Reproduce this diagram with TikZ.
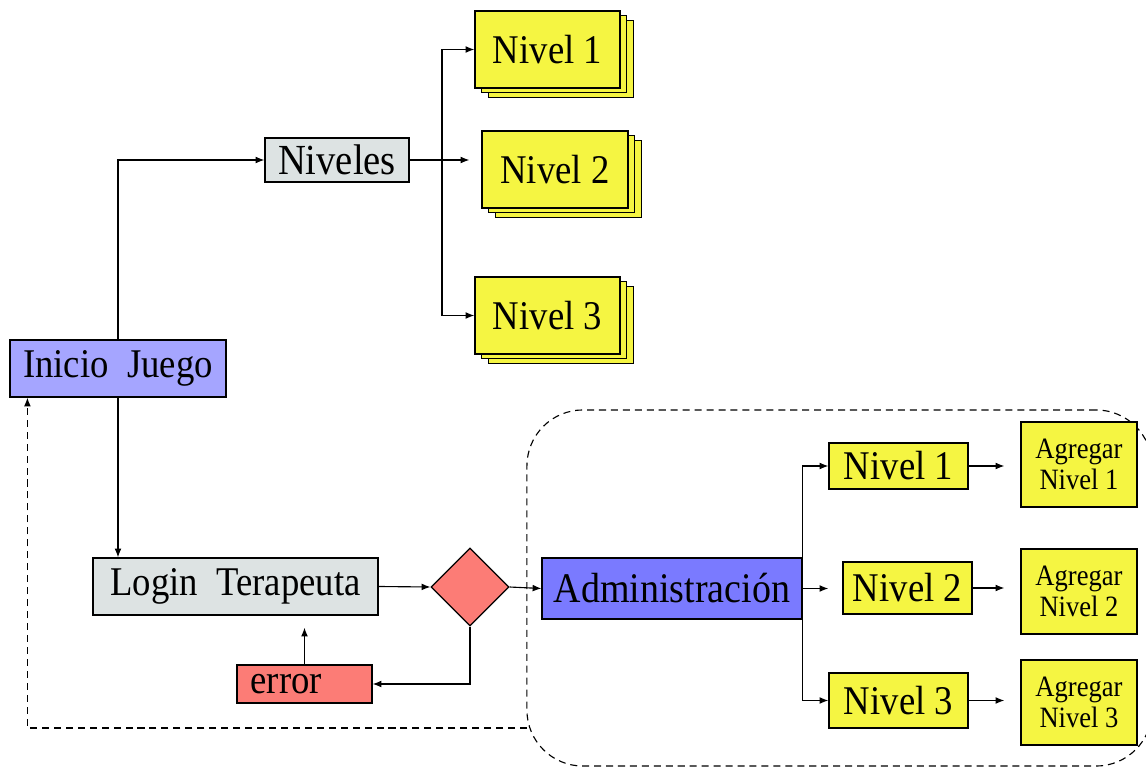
\documentclass[tikz,border=0pt]{standalone}
\usepackage{fontspec}
\setmainfont{Liberation Serif}[FakeStretch=0.9]
\usetikzlibrary{arrows.meta,positioning,calc,shapes.geometric,shadows}

\definecolor{boxgray}{RGB}{221,227,227}
\definecolor{startblue}{RGB}{165,165,255}
\definecolor{admblue}{RGB}{122,122,255}
\definecolor{lvlyellow}{RGB}{245,245,66}
\definecolor{errred}{RGB}{252,124,118}

\begin{document}
\begin{tikzpicture}[x=0.025cm,y=-0.025cm,>={Latex[length=2.2mm,width=1.7mm]},line width=0.8pt,
    every node/.style={font=\fontsize{29}{32}\selectfont,inner sep=0pt},
    gray-box/.style={draw,fill=boxgray},
    lvl-box/.style={draw,fill=lvlyellow},
    stack-box/.style={draw,fill=lvlyellow,minimum width=3.625cm,minimum height=1.925cm,double copy shadow={shadow xshift=0.17cm,shadow yshift=-0.12cm}},
    add-box/.style={draw,fill=lvlyellow,minimum width=2.9cm,minimum height=2.125cm,align=center,font=\fontsize{21}{22}\selectfont},
    back-line/.style={dash pattern=on 5pt off 3.5pt}]
      \useasboundingbox (0,0) rectangle (1146,768);

      \node [draw,back-line,rounded corners=1.4cm,minimum width=15.625cm,minimum height=8.9cm] (admin-area) at (839.5,588) {};

      \node [gray-box,minimum width=3.6cm,minimum height=1.1cm,font=\fontsize{30.5}{32}\selectfont] (niveles) at (337,160) {Niveles};
      \node [stack-box] (lvl-1) at (547.5,49.5) {Nivel 1};
      \node [stack-box,minimum width=3.65cm] (lvl-2) at (555,169.5) {Nivel 2};
      \node [stack-box] (lvl-3) at (547.5,315.5) {Nivel 3};

      \node [draw,fill=startblue,minimum width=5.4cm,minimum height=1.425cm] (inicio) at (118,368.5) {Inicio\ \ Juego};
      \node [gray-box,minimum width=7.125cm,minimum height=1.425cm] (login) at (235.5,586.5) {Login\ \ Terapeuta};
      \node [draw,diamond,fill=errred,minimum size=1.95cm] (check) at (470,587) {};
      \node [draw,fill=errred,minimum width=3.375cm,minimum height=0.95cm,text width=2.7cm,align=left] (error) at (304.5,684) {error};

      \node [draw,fill=admblue,minimum width=6.5cm,minimum height=1.525cm,font=\fontsize{30}{32}\selectfont] (adm) at (672,588.5) {Administración};
      \node [lvl-box,minimum width=3.475cm,minimum height=1.15cm] (adm-lvl-1) at (898.5,466) {Nivel 1};
      \node [lvl-box,minimum width=3.225cm,minimum height=1.3cm] (adm-lvl-2) at (907.5,588) {Nivel 2};
      \node [lvl-box,minimum width=3.475cm,minimum height=1.375cm] (adm-lvl-3) at (898.5,700.5) {Nivel 3};
      \node [add-box] (add-1) at (1079,464.5) {Agregar\\Nivel 1};
      \node [add-box] (add-2) at (1079,591.5) {Agregar\\Nivel 2};
      \node [add-box] (add-3) at (1079,702.5) {Agregar\\Nivel 3};

      \coordinate (split) at (442,160);
      \coordinate (back) at (527,728);

      \draw[->] (inicio.north) |- (niveles.west);
      \draw[->,shorten >=0.3cm] (niveles.east) -- (niveles.east -| lvl-2.west);
      \draw[->] (split) |- (lvl-1.west);
      \draw[->] (split) |- (lvl-3.west);

      \draw[->] (inicio.south) -- (inicio.south |- login.north);
      \draw[->] (login.east) -- (check.west);
      \draw[->] (check.east) -- (adm.west);
      \draw[->] (check.south) |- (error.east);
      \draw[->,shorten >=0.3cm] (error.north) -- (error.north |- login.south);
      \draw[back-line,->] (back) -| ([xshift=0.45cm]inicio.south west);

      \draw[->] (adm.north east) |- (adm-lvl-1.west);
      \draw[->,shorten >=0.35cm] (adm.east) -- (adm.east -| adm-lvl-2.west);
      \draw[->] (adm.south east) |- (adm-lvl-3.west);
      \foreach \t in {1,2,3} {
        \draw[->,shorten >=0.4cm] (adm-lvl-\t.east) -- (adm-lvl-\t.east -| add-\t.west);
      }
\end{tikzpicture}
\end{document}
